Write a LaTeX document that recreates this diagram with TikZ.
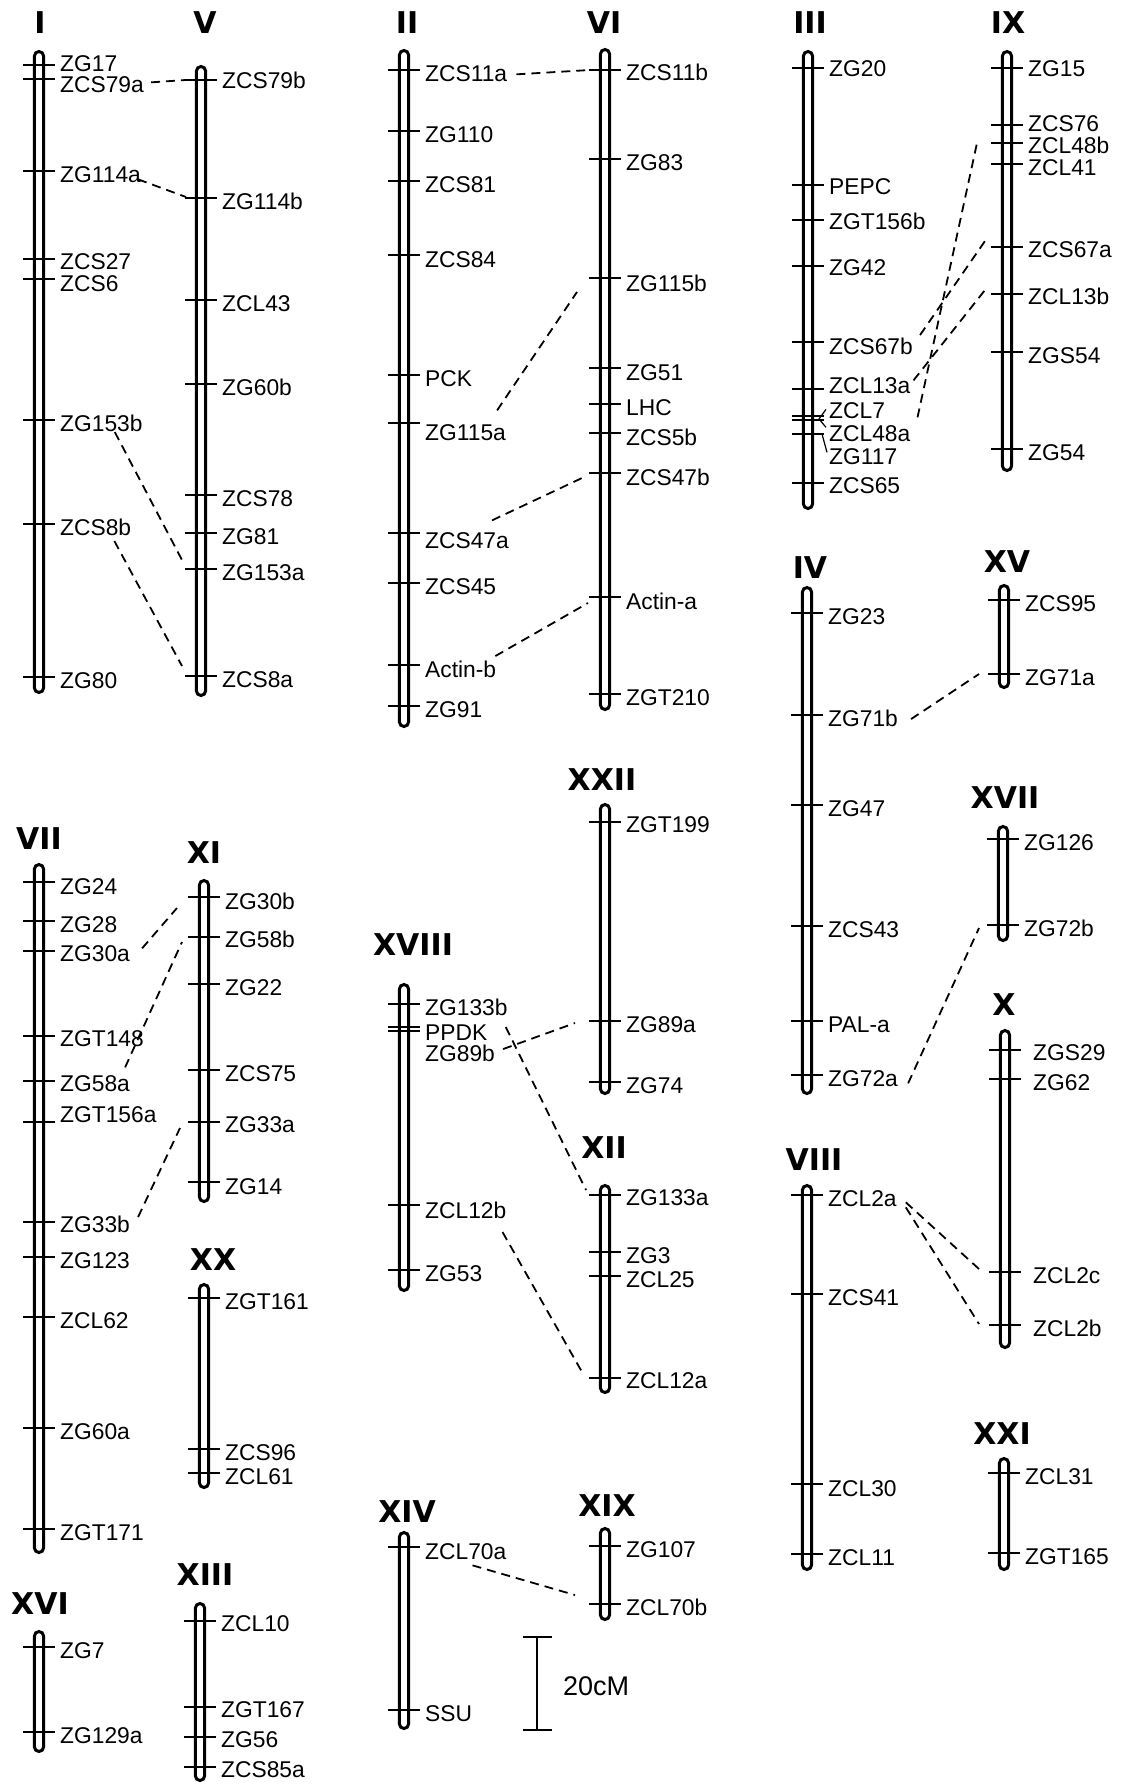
\documentclass[tikz,border=0pt]{standalone}
\usepackage{fontspec}
\setmainfont{Liberation Sans}
\newfontfamily\hdfont{DejaVu Sans}
\usetikzlibrary{calc}
\newcommand{\mkfont}{\fontsize{22.8}{26}\selectfont}
\tikzset{
  chr/.style   = {line width=3pt, rounded corners=4.6pt},
  tck/.style   = {line width=2pt},
  ldr/.style   = {line width=1.2pt},
  link/.style  = {line width=1.8pt, dash pattern=on 9pt off 6pt},
  scl/.style   = {line width=2pt},
  mlbl/.style  = {anchor=base west, inner sep=0pt, font=\mkfont},
  hdr/.style   = {anchor=base, inner sep=0pt,
                  font={\hdfont\bfseries\fontsize{30}{34}\selectfont}},
  sclbl/.style = {anchor=west, inner sep=0pt,
                  font={\fontsize{27}{30}\selectfont}},
}
% bar: x, top, bottom
\newcommand{\chrbar}[3]{\draw[chr] (#1-4.6,#2+1.5) rectangle (#1+4.6,#3-1.5);}
% ticks + labels: x, label shift, list of tick/label/name
\newcommand{\markers}[3]{%
  \foreach \ty/\ly/\nm in {#3}{
    \draw[tck] (#1-16,\ty) coordinate (w-\nm) -- (#1+16,\ty) coordinate (e-\nm);
    \node[mlbl] (\nm) at (#1+#2,\ly+8.2) {\nm};
  }}

\begin{document}
\begin{tikzpicture}[x=1pt,y=-1pt]
  \useasboundingbox (0,0) rectangle (1120,1785);
  % column 1: I, VII, XVI
  \node[hdr] (hI) at (40,34) {I};
  \chrbar{39}{50}{694}
  \markers{39}{21}{65/63/ZG17, 79/84/ZCS79a, 171/174/ZG114a, 259/261/ZCS27,
    279/283/ZCS6, 420/423/ZG153b, 524/527/ZCS8b, 677/680/ZG80}
  \node[hdr] (hVII) at (39,849) {VII};
  \chrbar{39}{863}{1554}
  \markers{39}{21}{882/886/ZG24, 921/924/ZG28, 951/953/ZG30a, 1036/1038/ZGT148,
    1081/1083/ZG58a, 1122/1114/ZGT156a, 1222/1224/ZG33b, 1257/1260/ZG123,
    1317/1320/ZCL62, 1428/1431/ZG60a, 1529/1532/ZGT171}
  \node[hdr] (hXVI) at (40,1614) {XVI};
  \chrbar{39}{1630}{1753}
  \markers{39}{21}{1647/1650/ZG7, 1732/1735/ZG129a}
  % column 2: V, XI, XX, XIII
  \node[hdr] (hV) at (205,34) {V};
  \chrbar{201}{65}{697}
  \markers{201}{21}{80/80/ZCS79b, 198/201/ZG114b, 300/303/ZCL43, 384/387/ZG60b,
    495/498/ZCS78, 533/536/ZG81, 569/572/ZG153a, 676/679/ZCS8a}
  \node[hdr] (hXI) at (204,863) {XI};
  \chrbar{204}{879}{1203}
  \markers{204}{21}{897/901/ZG30b, 937/939/ZG58b, 984/987/ZG22, 1070/1073/ZCS75,
    1122/1124/ZG33a, 1182/1186/ZG14}
  \node[hdr] (hXX) at (213,1270) {XX};
  \chrbar{204}{1283}{1489}
  \markers{204}{21}{1298/1301/ZGT161, 1449/1452/ZCS96, 1473/1476/ZCL61}
  \node[hdr] (hXIII) at (205,1585) {XIII};
  \chrbar{200}{1602}{1782}
  \markers{200}{21}{1621/1623/ZCL10, 1707/1709/ZGT167, 1737/1739/ZG56,
    1767/1769/ZCS85a}
  % column 3: II, XVIII, XIV
  \node[hdr] (hII) at (407,34) {II};
  \chrbar{404}{49}{728}
  \markers{404}{21}{70/73/ZCS11a, 131/134/ZG110, 181/184/ZCS81, 255/259/ZCS84,
    375/378/PCK, 423/432/ZG115a, 533/540/ZCS47a, 583/586/ZCS45,
    665/669/Actin-b, 706/709/ZG91}
  \node[hdr] (hXVIII) at (413,955) {XVIII};
  \chrbar{404}{983}{1292}
  \markers{404}{21}{1004/1007/ZG133b, 1027/1032/PPDK, 1031/1053/ZG89b,
    1205/1210/ZCL12b, 1270/1273/ZG53}
  \node[hdr] (hXIV) at (407,1522) {XIV};
  \chrbar{404}{1531}{1730}
  \markers{404}{21}{1547/1551/ZCL70a, 1710/1713/SSU}
  % column 4: VI, XXII, XII, XIX
  \node[hdr] (hVI) at (604,34) {VI};
  \chrbar{605}{48}{711}
  \markers{605}{21}{70/72/ZCS11b, 159/162/ZG83, 278/283/ZG115b, 368/372/ZG51,
    404/407/LHC, 433/437/ZCS5b, 473/477/ZCS47b, 597/601/Actin-a, 694/697/ZGT210}
  \node[hdr] (hXXII) at (602,790) {XXII};
  \chrbar{605}{803}{1095}
  \markers{605}{21}{822/824/ZGT199, 1021/1024/ZG89a, 1082/1085/ZG74}
  \node[hdr] (hXII) at (604,1158) {XII};
  \chrbar{605}{1184}{1394}
  \markers{605}{21}{1195/1197/ZG133a, 1252/1255/ZG3, 1276/1279/ZCL25,
    1378/1380/ZCL12a}
  \node[hdr] (hXIX) at (607,1516) {XIX};
  \chrbar{605}{1527}{1621}
  \markers{605}{21}{1546/1549/ZG107, 1604/1607/ZCL70b}
  % column 5: III, IV, VIII
  \node[hdr] (hIII) at (810,34) {III};
  \chrbar{808}{50}{510}
  \markers{808}{21}{68/68/ZG20, 185/186/PEPC, 220/221/ZGT156b, 266/267/ZG42,
    342/346/ZCS67b, 389/385/ZCL13a, 416/410/ZCL7, 420/433/ZCL48a,
    434/456/ZG117, 483/485/ZCS65}
  \draw[ldr] ($(ZCL7.west)+(-3,-1)$) -- ($(e-ZCL7)+(-5,3)$)
    -- ($(ZCL48a.west)+(-3,-6)$);
  \draw[ldr] ($(e-ZG117)+(-2,0)$) -- ($(ZG117.west)+(-2,-4)$);
  \node[hdr] (hIV) at (810,578) {IV};
  \chrbar{807}{586}{1095}
  \markers{807}{21}{613/616/ZG23, 715/718/ZG71b, 805/808/ZG47, 926/929/ZCS43,
    1021/1024/PAL-a, 1075/1078/ZG72a}
  \node[hdr] (hVIII) at (814,1170) {VIII};
  \chrbar{807}{1184}{1571}
  \markers{807}{21}{1195/1198/ZCL2a, 1294/1297/ZCS41, 1484/1488/ZCL30,
    1554/1557/ZCL11}
  % column 6: IX, XV, XVII, X, XXI
  \node[hdr] (hIX) at (1008,34) {IX};
  \chrbar{1007}{50}{472}
  \markers{1007}{21}{68/68/ZG15, 125/123/ZCS76, 143/145/ZCL48b, 164/167/ZCL41,
    247/249/ZCS67a, 294/296/ZCL13b, 352/355/ZGS54, 449/452/ZG54}
  \node[hdr] (hXV) at (1007,572) {XV};
  \chrbar{1004}{584}{689}
  \markers{1004}{21}{600/603/ZCS95, 674/677/ZG71a}
  \node[hdr] (hXVII) at (1005,808) {XVII};
  \chrbar{1003}{825}{942}
  \markers{1003}{21}{839/842/ZG126, 925/928/ZG72b}
  \node[hdr] (hX) at (1004,1015) {X};
  \chrbar{1005}{1029}{1349}
  \markers{1005}{28}{1050/1052/ZGS29, 1079/1082/ZG62, 1272/1275/ZCL2c,
    1325/1328/ZCL2b}
  \node[hdr] (hXXI) at (1002,1444) {XXI};
  \chrbar{1004}{1457}{1571}
  \markers{1004}{21}{1473/1476/ZCL31, 1553/1556/ZGT165}
  % homologous loci
  \draw[link] ($(ZCS79a.east)+(7,-2)$) -- ($(w-ZCS79b)+(1,0)$);
  \draw[link] ($(ZG114a.east)+(-3,5)$) -- ($(w-ZG114b)+(1,-1)$);
  \draw[link] ($(ZG153b.east)+(-28,9)$) -- ($(w-ZG153a)+(-3,-9)$);
  \draw[link] ($(ZCS8b.east)+(-17,14)$) -- ($(w-ZCS8a)+(-3,-10)$);
  \draw[link] ($(ZCS11a.east)+(9,1)$) -- ($(w-ZCS11b)+(1,0)$);
  \draw[link] ($(ZG115a.east)+(-9,-22)$) -- ($(w-ZG115b)+(-12,14)$);
  \draw[link] ($(ZCS47a.east)+(-17,-20)$) -- ($(w-ZCS47b)+(-7,5)$);
  \draw[link] ($(Actin-b.east)+(-1,-13)$) -- ($(w-Actin-a)+(-1,6)$);
  \draw[link] ($(ZCS67b.east)+(7,-11)$) -- ($(w-ZCS67a)+(-6,-6)$);
  \draw[link] ($(ZCL13a.east)+(3,-5)$) -- ($(w-ZCL13b)+(-6,-4)$);
  \draw[link] ($(ZCL48a.east)+(7,-16)$) -- ($(w-ZCL48b)+(-14,0)$);
  \draw[link] ($(ZG71b.east)+(13,1)$) -- ($(w-ZG71a)+(-9,0)$);
  \draw[link] ($(ZG72a.east)+(10,5)$) -- ($(w-ZG72b)+(-8,3)$);
  \draw[link] ($(ZCL2a.east)+(9,4)$) -- ($(w-ZCL2c)+(-10,-3)$);
  \draw[link] ($(ZCL2a.east)+(9,9)$) -- ($(w-ZCL2b)+(-10,-1)$);
  \draw[link] ($(ZG30a.east)+(12,-5)$) -- ($(w-ZG30b)+(-11,11)$);
  \draw[link] ($(ZG58a.east)+(-5,-16)$) -- ($(w-ZG58b)+(-6,5)$);
  \draw[link] ($(ZG33b.east)+(8,-7)$) -- ($(w-ZG33a)+(-8,6)$);
  \draw[link] ($(ZG89b.east)+(8,-4)$) -- ($(w-ZG89a)+(-14,2)$);
  \draw[link] ($(ZG133b.east)+(-2,20)$) -- ($(w-ZG133a)+(-3,-5)$);
  \draw[link] ($(ZCL12b.east)+(-4,22)$) -- ($(w-ZCL12a)+(-7,-6)$);
  \draw[link] ($(ZCL70a.east)+(-34,14)$) -- ($(w-ZCL70b)+(-14,-9)$);
  % scale
  \coordinate (sbt) at (537,1637);
  \coordinate (sbb) at (537,1730);
  \draw[scl] (sbt) -- (sbb);
  \draw[scl] ($(sbt)+(-14.5,0)$) -- ($(sbt)+(14.5,0)$);
  \draw[scl] ($(sbb)+(-14.5,0)$) -- ($(sbb)+(14.5,0)$);
  \node[sclbl] (sblbl) at (563,1686) {20cM};
\end{tikzpicture}
\end{document}
